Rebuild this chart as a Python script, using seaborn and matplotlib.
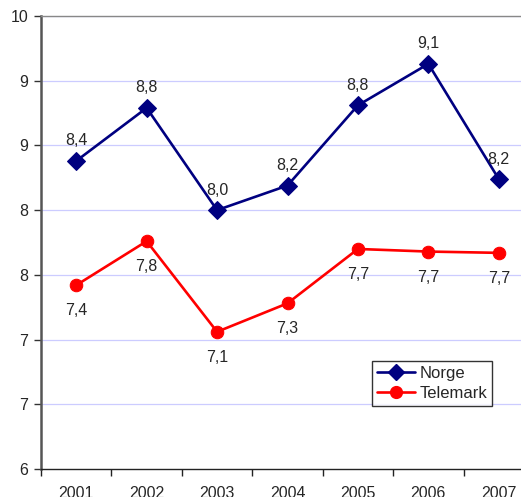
import numpy as np
import pandas as pd
import matplotlib
matplotlib.use("Agg")
import matplotlib.pyplot as plt
from matplotlib.ticker import FixedLocator
import seaborn as sns

years = [2001, 2002, 2003, 2004, 2005, 2006, 2007]
norge = [8.38, 8.79, 8.00, 8.19, 8.81, 9.13, 8.24]
telemark = [7.42, 7.76, 7.06, 7.28, 7.70, 7.68, 7.67]
series_names = ["Norge", "Telemark"]
y_ticks = [6.0, 6.5, 7.0, 7.5, 8.0, 8.5, 9.0, 9.5]
y_tick_labels = ["6", "7", "7", "8", "8", "9", "9", "10"]

df = pd.DataFrame({
    "year": years * 2,
    "value": norge + telemark,
    "serie": ["Norge"] * len(years) + ["Telemark"] * len(years),
})

sns.set_theme(style="white")
plt.rcParams["font.family"] = ["Liberation Sans", "DejaVu Sans"]
FS = 11.5

fig = plt.figure(figsize=(5.21, 4.97), dpi=100)
ax = fig.add_axes([41 / 521, 1 - 469 / 497, 493 / 521, 453 / 497])

colors = {"Norge": "#000080", "Telemark": "#FF0000"}
sns.lineplot(data=df, x="year", y="value", hue="serie", style="serie",
             palette=colors, markers={"Norge": "D", "Telemark": "o"},
             dashes=False, linewidth=1.9, markersize=9,
             markeredgecolor=None, ax=ax, legend=False)
for line, name in zip(ax.get_lines(), series_names):
    line.set_markeredgecolor(colors[name])
    line.set_markerfacecolor(colors[name])

# data labels, comma decimal
for x, v in zip(years, norge):
    ax.annotate(f"{v:.1f}".replace(".", ","), (x, v), xytext=(0, 9),
                textcoords="offset points", ha="center", va="bottom", fontsize=FS)
for x, v in zip(years, telemark):
    ax.annotate(f"{v:.1f}".replace(".", ","), (x, v), xytext=(0, -13),
                textcoords="offset points", ha="center", va="top", fontsize=FS)

ax.set_xlim(years[0] - 0.5, years[-1] + 0.5)
ax.set_ylim(6, 9.5)
ax.set_yticks(y_ticks)
ax.set_yticklabels(y_tick_labels, fontsize=FS)
ax.set_xticks(years)
ax.set_xticklabels([str(y) for y in years], fontsize=FS)
ax.xaxis.set_minor_locator(FixedLocator([y - 0.5 for y in years] + [years[-1] + 0.5]))
ax.tick_params(axis="x", which="major", length=0, pad=12)
ax.tick_params(axis="x", which="minor", bottom=True, length=5, width=1, color="#222222", direction="out")
ax.tick_params(axis="y", left=True, length=5, width=1, color="#333333", direction="out", pad=4)
ax.set_xlabel("")
ax.set_ylabel("")

for yv in y_ticks[1:]:
    ax.axhline(yv, color="#ccccff", linewidth=0.9, zorder=0)
ax.spines["top"].set_color("#888888")
ax.spines["top"].set_linewidth(1.0)
ax.spines["right"].set_visible(False)
ax.spines["left"].set_color("#555555")
ax.spines["left"].set_linewidth(1.8)
ax.spines["bottom"].set_color("#222222")
ax.spines["bottom"].set_linewidth(1.0)

handles = [plt.Line2D([], [], color=colors[n], marker=m, markersize=8.5, linewidth=1.9)
           for n, m in zip(series_names, ["D", "o"])]
leg = ax.legend(handles, series_names, loc="lower right", bbox_to_anchor=(0.915, 0.14),
                fontsize=FS + 0.5, frameon=True, fancybox=False, borderpad=0.3,
                handlelength=2.3, handletextpad=0.25, labelspacing=0.3, borderaxespad=0)
leg.get_frame().set_edgecolor("black")
leg.get_frame().set_linewidth(1.0)

fig.savefig("out.png", dpi=100)
